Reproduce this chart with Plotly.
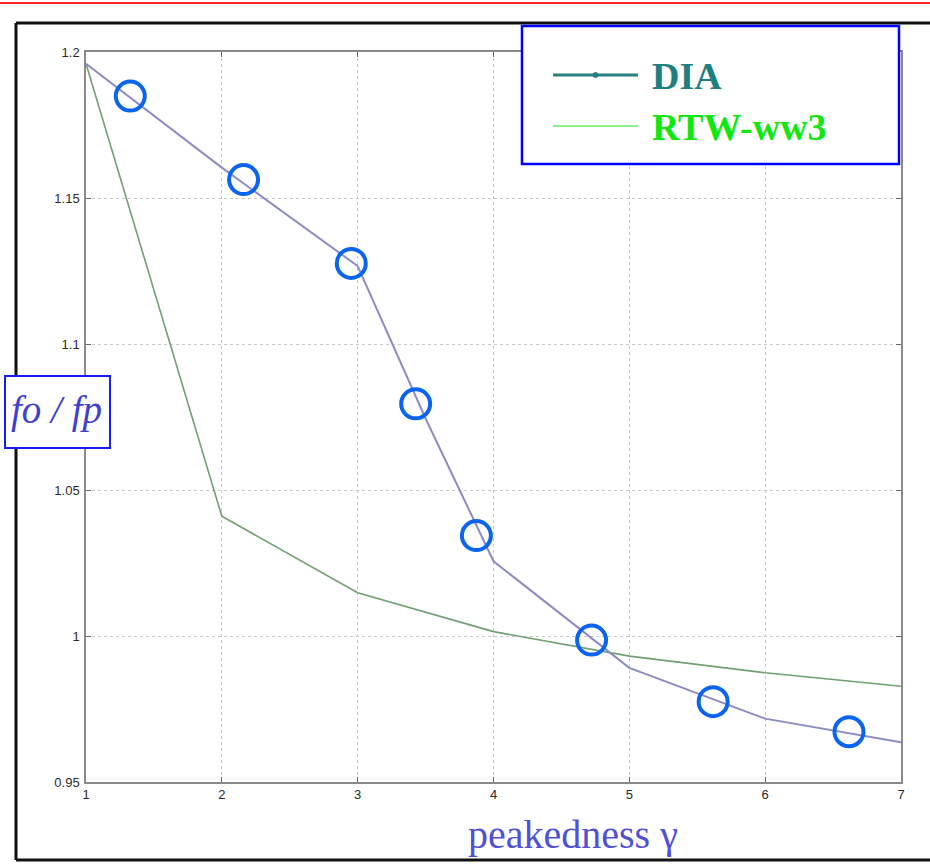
import plotly.graph_objects as go

# ---- data ----
gamma = [1, 2, 3, 3.5, 4, 5, 6, 7]
dia = [1.1960, 1.1604, 1.1267, 1.0745, 1.0256, 0.9891, 0.9717, 0.9636]
gamma_rtw = [1, 2, 3, 4, 5, 6, 7]
rtw = [1.1960, 1.0410, 1.0148, 1.0015, 0.9931, 0.9874, 0.9828]
circ_x = [1.326, 2.160, 2.953, 3.427, 3.874, 4.722, 5.617, 6.617]
circ_y = [1.1849, 1.1563, 1.1276, 1.0795, 1.0344, 0.9986, 0.9775, 0.9672]
x_ticks = [1, 2, 3, 4, 5, 6, 7]
y_ticks = [0.95, 1.0, 1.05, 1.1, 1.15, 1.2]
y_ticklabels = ["0.95", "1", "1.05", "1.1", "1.15", "1.2"]
legend_names = ["DIA", "RTW-ww3"]

W, H = 930, 865
L, R, T, B = 86, 29, 52, 83
PW, PH = W - L - R, H - T - B


def px(x):
    return (x - L) / PW


def py(y):
    return (H - B - y) / PH


fig = go.Figure()
fig.add_trace(go.Scatter(x=gamma_rtw, y=rtw, mode="lines",
                         line=dict(color="#6fa06f", width=1.6), showlegend=False))
fig.add_trace(go.Scatter(x=gamma, y=dia, mode="lines",
                         line=dict(color="#8c8cc4", width=2), showlegend=False))
fig.add_trace(go.Scatter(x=circ_x, y=circ_y, mode="markers",
                         marker=dict(symbol="circle-open", size=29, color="#0a64f0",
                                     line=dict(width=4, color="#0a64f0")),
                         showlegend=False))

tickfont = dict(family="Liberation Sans, Arial", size=13, color="#2a2a2a")
fig.update_xaxes(range=[1, 7], tickvals=x_ticks, ticktext=[str(v) for v in x_ticks],
                 showgrid=True, gridcolor="#c8c8c8", griddash="dot", gridwidth=1,
                 showline=True, linecolor="#8a8a8a", linewidth=1.5, mirror="ticks",
                 ticks="inside", ticklen=5, tickcolor="#666", tickfont=tickfont,
                 zeroline=False)
fig.update_yaxes(range=[0.95, 1.2], tickvals=y_ticks, ticktext=y_ticklabels,
                 showgrid=True, gridcolor="#c8c8c8", griddash="dot", gridwidth=1,
                 showline=True, linecolor="#8a8a8a", linewidth=1.5, mirror="ticks",
                 ticks="inside", ticklen=5, tickcolor="#666", tickfont=tickfont,
                 zeroline=False, ticklabelstandoff=2)

shapes = []
# red line at top
shapes.append(dict(type="line", xref="paper", yref="paper", x0=px(0), x1=px(W),
                   y0=py(3), y1=py(3), line=dict(color="#ff2020", width=2)))
# black outer frame (left, top, bottom)
shapes.append(dict(type="line", xref="paper", yref="paper", x0=px(16), x1=px(W + 5),
                   y0=py(23), y1=py(23), line=dict(color="#111", width=3)))
shapes.append(dict(type="line", xref="paper", yref="paper", x0=px(16), x1=px(16),
                   y0=py(23), y1=py(860), line=dict(color="#111", width=3)))
shapes.append(dict(type="line", xref="paper", yref="paper", x0=px(16), x1=px(W + 5),
                   y0=py(860), y1=py(860), line=dict(color="#111", width=3)))
# legend box
shapes.append(dict(type="rect", xref="paper", yref="paper", x0=px(522), x1=px(899),
                   y0=py(164), y1=py(26), line=dict(color="#0000ff", width=2.5),
                   fillcolor="white", layer="above"))
# legend lines
shapes.append(dict(type="line", xref="paper", yref="paper", x0=px(553), x1=px(638),
                   y0=py(75), y1=py(75), line=dict(color="#2a7f80", width=3), layer="above"))
shapes.append(dict(type="circle", xref="paper", yref="paper", x0=px(593), x1=px(598),
                   y0=py(77.5), y1=py(72.5), line=dict(color="#2a7f80", width=1),
                   fillcolor="#2a7f80", layer="above"))
shapes.append(dict(type="line", xref="paper", yref="paper", x0=px(553), x1=px(638),
                   y0=py(126), y1=py(126), line=dict(color="#8cf08c", width=2), layer="above"))
# y-label box
shapes.append(dict(type="rect", xref="paper", yref="paper", x0=px(5), x1=px(110),
                   y0=py(448), y1=py(376), line=dict(color="#1a1aff", width=2),
                   fillcolor="white", layer="above"))

annotations = [
    dict(text="<b>" + legend_names[0] + "</b>", xref="paper", yref="paper",
         x=px(650), y=py(76), xanchor="left", yanchor="middle", showarrow=False,
         font=dict(family="Liberation Serif, Times New Roman", size=38, color="#1f7f80")),
    dict(text="<b>" + legend_names[1] + "</b>", xref="paper", yref="paper",
         x=px(650), y=py(127), xanchor="left", yanchor="middle", showarrow=False,
         font=dict(family="Liberation Serif, Times New Roman", size=38, color="#10e810")),
    dict(text="<i>fo / fp</i>", xref="paper", yref="paper",
         x=px(56), y=py(410), xanchor="center", yanchor="middle", showarrow=False,
         font=dict(family="Liberation Serif, Times New Roman", size=39, color="#4040d0")),
    dict(text="peakedness γ", xref="paper", yref="paper",
         x=px(573), y=py(834), xanchor="center", yanchor="middle", showarrow=False,
         font=dict(family="Liberation Serif, Times New Roman", size=40, color="#5050d8")),
]

fig.update_layout(width=W, height=H, margin=dict(l=L, r=R, t=T, b=B, autoexpand=False),
                  paper_bgcolor="white", plot_bgcolor="white", showlegend=False,
                  shapes=shapes, annotations=annotations)

fig.write_html("out.html")
